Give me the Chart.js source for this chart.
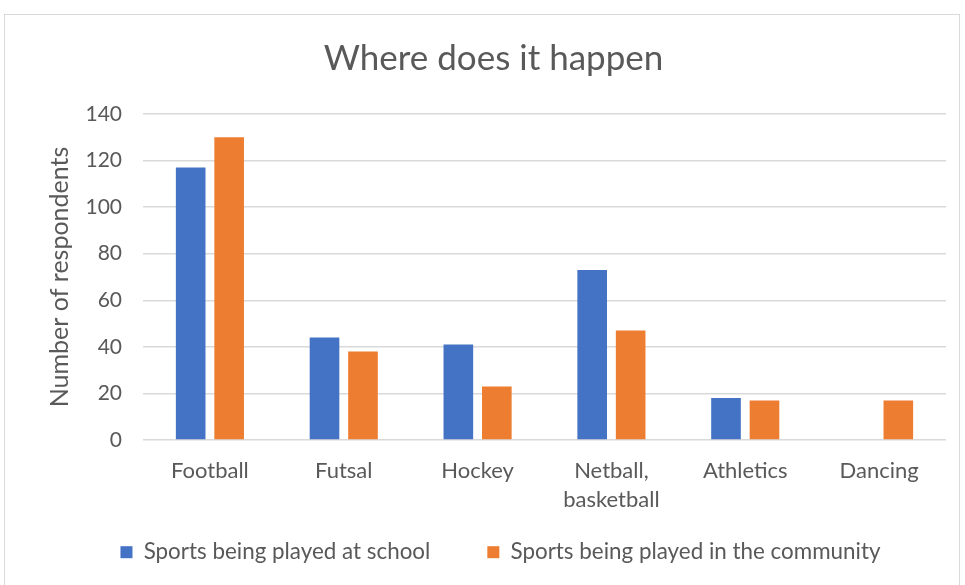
<!DOCTYPE html>
<html>
<head>
<meta charset="utf-8">
<script src="https://cdn.jsdelivr.net/npm/chart.js@4"></script>
<style>
    body { margin: 0; background: #fff; }
    #wrap { position: relative; width: 965px; height: 585px; overflow: hidden; }
    #frame { position: absolute; left: 4px; top: 14px; width: 954px; height: 600px; border: 1px solid #d9d9d9; }
    canvas { position: absolute; left: 0; top: 0; }
</style>
</head>
<body>
<div id="wrap">
    <div id="frame"></div>
    <canvas id="sportsChart" width="965" height="585"></canvas>
</div>
<script>
const categories = ['Football', 'Futsal', 'Hockey', ['Netball,', 'basketball'], 'Athletics', 'Dancing'];
const schoolValues = [117, 44, 41, 73, 18, 0];
const communityValues = [130, 38, 23, 47, 17, 17];
const yTicks = [0, 20, 40, 60, 80, 100, 120, 140];

const textGrey = '#595959';
const fontFamily = 'Lato, sans-serif';

// Move the legend down into the space below the two-line labels
const legendPlacer = {
    id: 'legendPlacer',
    afterLayout(chart) {
        const lg = chart.legend;
        lg.top = 484;
        lg.bottom = 585;
        lg.height = 101;
        lg.left += 7;
        lg.right += 7;
    }
};

// Draw the grouped bar chart
new Chart(document.getElementById('sportsChart'), {
    type: 'bar',
    data: {
        labels: categories,
        datasets: [
            { label: 'Sports being played at school', data: schoolValues, backgroundColor: '#4472C4' },
            { label: 'Sports being played in the community', data: communityValues, backgroundColor: '#ED7D31' }
        ]
    },
    plugins: [legendPlacer],
    options: {
        responsive: false,
        animation: false,
        layout: { padding: { left: 41, right: 19, top: 0, bottom: 0 } },
        datasets: {
            bar: { barPercentage: 0.77, categoryPercentage: 0.575, borderWidth: 0 }
        },
        scales: {
            x: {
                grid: { display: false, drawTicks: false },
                border: { display: false },
                ticks: {
                    color: textGrey,
                    padding: 16.5,
                    maxRotation: 0,
                    autoSkip: false,
                    font: { family: fontFamily, size: 22, lineHeight: 1.32 }
                },
                afterFit: scale => { scale.height = 75; }
            },
            y: {
                min: 0,
                max: yTicks[yTicks.length - 1],
                afterBuildTicks: scale => { scale.ticks = yTicks.map(v => ({ value: v })); },
                grid: { color: '#d9d9d9', lineWidth: 1.5, drawTicks: false },
                border: { display: false },
                ticks: {
                    color: textGrey,
                    padding: 21,
                    font: { family: fontFamily, size: 21 }
                },
                title: {
                    display: true,
                    text: 'Number of respondents',
                    color: textGrey,
                    font: { family: fontFamily, size: 25 }
                },
                afterFit: scale => { scale.width = 102; }
            }
        },
        plugins: {
            title: {
                display: true,
                text: 'Where does it happen',
                color: textGrey,
                font: { family: fontFamily, size: 35, weight: 'normal' },
                padding: { top: 38, bottom: 34 }
            },
            legend: {
                position: 'bottom',
                maxHeight: 70,
                labels: {
                    color: textGrey,
                    boxWidth: 12,
                    boxHeight: 12,
                    padding: 57,
                    font: { family: fontFamily, size: 22.4 }
                }
            },
            tooltip: { enabled: false }
        }
    }
});
</script>
</body>
</html>
